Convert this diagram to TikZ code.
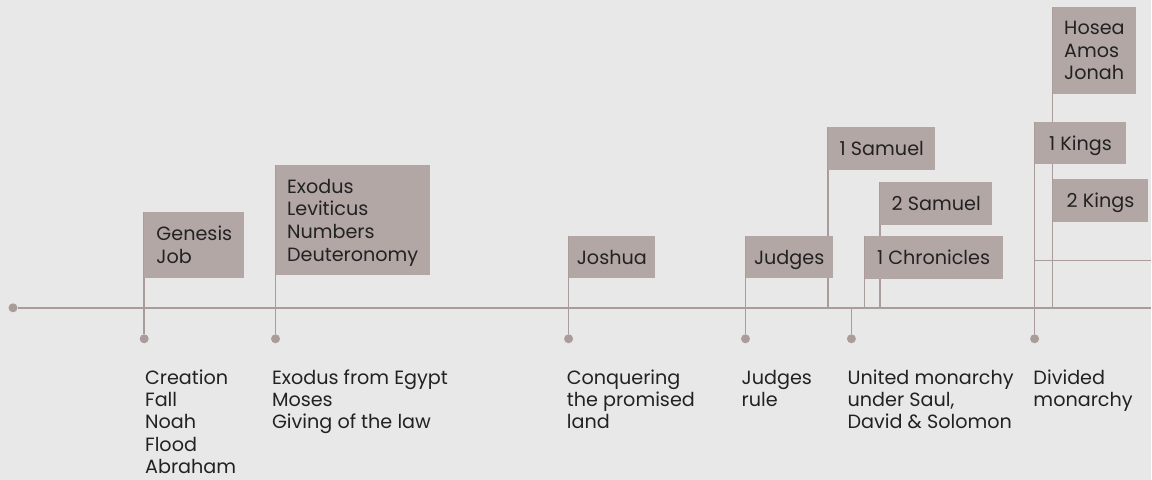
\documentclass[tikz,border=0pt]{standalone}
\usepackage{fontspec}
\setmainfont{Poppins}
\usepackage{xcolor}
\definecolor{paper}{HTML}{E8E8E8}
\definecolor{stem}{HTML}{A99C9A}
\definecolor{flag}{HTML}{B3A7A5}
\definecolor{ink}{HTML}{222222}
\pgfdeclarelayer{bgpaper}
\pgfdeclarelayer{bgstem}
\pgfsetlayers{bgpaper,bgstem,main}
\newcommand{\tlfont}{\fontsize{19.2}{22.6}\selectfont}
\newcommand{\evfont}{\fontsize{19.2}{22.2}\selectfont}

\begin{document}
\begin{tikzpicture}[x=1pt, y=-1pt,
	book/.style = {fill=flag, anchor=north west, align=left, inner xsep=8pt, inner ysep=14pt, text depth=0pt, font=\tlfont, text=ink},
	event/.style = {anchor=north west, align=left, inner sep=0pt, font=\evfont, text=ink},
	dot/.style = {circle, fill=stem, inner sep=0pt, minimum size=9pt},
	stem/.style = {draw=stem, line width=1.6pt}]
	\begin{pgfonlayer}{bgpaper}
		\fill[paper] (0,0) rectangle (1152,480);
	\end{pgfonlayer}
	\node[dot] (start) at (13,308) {};
	\coordinate (lineend) at (1152,308);
	% dots under the line
	\node[dot] (dgen) at (144.3,339) {};
	\node[dot] (dexo) at (275.7,339) {};
	\node[dot] (djos) at (569,339) {};
	\node[dot] (djud) at (746,339) {};
	\node[dot] (dking) at (852,339) {};
	\node[dot] (ddiv) at (1035.3,339) {};
	\coordinate (kingbase) at (852,308);
	\coordinate (sam1base) at (828.7,308);
	\coordinate (chronbase) at (865,308);
	\coordinate (sam2base) at (880.7,308);
	\coordinate (hosbase) at (1053.3,308);
	\coordinate (divbranch) at (1035.3,260.7);
	\coordinate (branchend) at (1152,260.7);
	% books
	\node[book, minimum width=100pt] (genesis) at (144.3,212.3) {Genesis\\Job};
	\node[book, minimum width=154pt] (exodus) at (275.7,165) {Exodus\\Leviticus\\Numbers\\Deuteronomy};
	\node[book, minimum width=85pt] (joshua) at (569,236) {Joshua};
	\node[book, minimum width=87pt] (judges) at (746,236) {Judges};
	\node[book, minimum width=107pt] (samuel1) at (828.7,127.3) {1 Samuel};
	\node[book, minimum width=112pt] (samuel2) at (880.7,182.3) {2 Samuel};
	\node[book, minimum width=138pt] (chron1) at (865,236) {1 Chronicles};
	\node[book, minimum width=91.4pt] (kings1) at (1035.3,121.7) {1 Kings};
	\node[book, minimum width=83.4pt] (hosea) at (1053.3,7) {Hosea\\Amos\\Jonah};
	\node[book, minimum width=95.4pt] (kings2) at (1053.3,179.3) {2 Kings};
	% events
	\node[event] (creation) at (145,370) {Creation\\Fall\\Noah\\Flood\\Abraham};
	\node[event] (egypt) at (272,370) {Exodus from Egypt\\Moses\\Giving of the law};
	\node[event] (conquer) at (567,370) {Conquering\\the promised\\land};
	\node[event] (rule) at (742,370) {Judges\\rule};
	\node[event] (united) at (848,370) {United monarchy\\under Saul,\\David \& Solomon};
	\node[event] (divided) at (1034,370) {Divided\\monarchy};
	\begin{pgfonlayer}{bgstem}
		\draw[stem] (start) -- (lineend);
		\draw[stem] (dgen) -- (genesis.north west);
		\draw[stem] (dexo) -- (exodus.north west);
		\draw[stem] (djos) -- (joshua.north west);
		\draw[stem] (djud) -- (judges.north west);
		\draw[stem] (dking) -- (kingbase);
		\draw[stem] (sam1base) -- (samuel1.north west);
		\draw[stem] (chronbase) -- (chron1.north west);
		\draw[stem] (sam2base) -- (samuel2.north west);
		\draw[stem] (ddiv) -- (kings1.north west);
		\draw[stem] (divbranch) -- (branchend);
		\draw[stem] (hosbase) -- (hosea.north west);
	\end{pgfonlayer}
\end{tikzpicture}
\end{document}
